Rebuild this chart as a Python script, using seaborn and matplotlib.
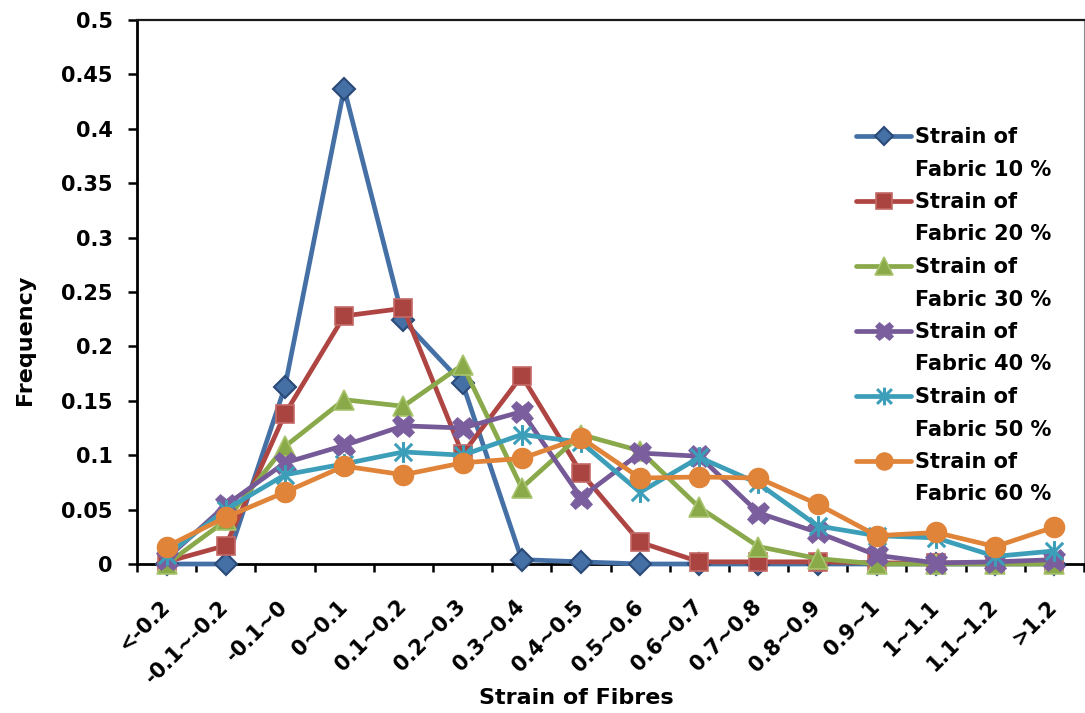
import numpy as np
import pandas as pd
import matplotlib
matplotlib.use("Agg")
import matplotlib.pyplot as plt
from matplotlib.lines import Line2D
from matplotlib.path import Path
import seaborn as sns

# Strain bins of the fibres (x categories)
bins = ["<-0.2", "-0.1~-0.2", "-0.1~0", "0~0.1", "0.1~0.2", "0.2~0.3",
        "0.3~0.4", "0.4~0.5", "0.5~0.6", "0.6~0.7", "0.7~0.8", "0.8~0.9",
        "0.9~1", "1~1.1", "1.1~1.2", ">1.2"]

# Frequency of fibre strain for each fabric strain level
fabric_10 = [0.000, 0.000, 0.163, 0.437, 0.224, 0.166, 0.004, 0.002,
             0.000, 0.000, 0.000, 0.000, 0.000, 0.000, 0.000, 0.000]
fabric_20 = [0.002, 0.017, 0.138, 0.228, 0.235, 0.101, 0.173, 0.084,
             0.020, 0.002, 0.002, 0.002, 0.001, 0.001, 0.001, 0.001]
fabric_30 = [0.000, 0.040, 0.108, 0.151, 0.145, 0.183, 0.070, 0.119,
             0.104, 0.052, 0.016, 0.005, 0.000, 0.000, 0.000, 0.000]
fabric_40 = [0.005, 0.054, 0.093, 0.109, 0.127, 0.125, 0.140, 0.061,
             0.102, 0.099, 0.047, 0.029, 0.008, 0.001, 0.002, 0.004]
fabric_50 = [0.008, 0.050, 0.082, 0.092, 0.103, 0.100, 0.119, 0.112,
             0.066, 0.098, 0.074, 0.035, 0.026, 0.024, 0.007, 0.012]
fabric_60 = [0.016, 0.043, 0.066, 0.090, 0.082, 0.093, 0.097, 0.116,
             0.079, 0.080, 0.079, 0.055, 0.026, 0.029, 0.016, 0.034]

series_names = ["Strain of Fabric 10 %", "Strain of Fabric 20 %",
                "Strain of Fabric 30 %", "Strain of Fabric 40 %",
                "Strain of Fabric 50 %", "Strain of Fabric 60 %"]
series_values = [fabric_10, fabric_20, fabric_30, fabric_40, fabric_50, fabric_60]

y_ticks = [0, 0.05, 0.1, 0.15, 0.2, 0.25, 0.3, 0.35, 0.4, 0.45, 0.5]
y_tick_labels = ["0", "0.05", "0.1", "0.15", "0.2", "0.25", "0.3", "0.35",
                 "0.4", "0.45", "0.5"]

# Asterisk marker: an "x" with a vertical bar through it
_asterisk = Path(
    [(-0.5, -0.5), (0.5, 0.5), (-0.5, 0.5), (0.5, -0.5), (0, -0.6), (0, 0.6)],
    [Path.MOVETO, Path.LINETO, Path.MOVETO, Path.LINETO, Path.MOVETO, Path.LINETO],
)

styles = [
    dict(color="#4470A6", marker="D", ms=11, mfc="#4470A6", mec="#2A4A78", mew=1.5),
    dict(color="#AE4542", marker="s", ms=13.5, mfc="#AA4441", mec="#C46A67", mew=1.2),
    dict(color="#89A94B", marker="^", ms=15, mfc="#8AAA4A", mec="#A9C46E", mew=1.2),
    dict(color="#765A97", marker="X", ms=16, mfc="#7A5E9E", mec="#7A5E9E", mew=0.5),
    dict(color="#3C9EB8", marker=_asterisk, ms=15, mfc="none", mec="#3C9EB8", mew=2.2),
    dict(color="#E0843A", marker="o", ms=14.5, mfc="#E0843A", mec="#E0843A", mew=1),
]

records = []
for name, vals in zip(series_names, series_values):
    for i, (b, v) in enumerate(zip(bins, vals)):
        records.append({"series": name, "pos": i, "bin": b, "freq": v})
df = pd.DataFrame(records)

sns.set_theme(style="white")
plt.rcParams["font.family"] = ["DejaVu Sans"]
plt.rcParams["font.weight"] = "bold"
plt.rcParams["text.color"] = "black"
plt.rcParams["axes.labelcolor"] = "black"
plt.rcParams["xtick.color"] = "black"
plt.rcParams["ytick.color"] = "black"

fig = plt.figure(figsize=(10.85, 7.13), dpi=100)
ax = fig.add_axes([137 / 1085, 1 - 564 / 713, (1084 - 137) / 1085, (564 - 20) / 713])

for name, st in zip(series_names, styles):
    sub = df[df["series"] == name]
    sns.lineplot(data=sub, x="pos", y="freq", ax=ax, color=st["color"],
                 linewidth=3.4, marker=st["marker"], markersize=st["ms"],
                 markerfacecolor=st["mfc"], markeredgecolor=st["mec"],
                 markeredgewidth=st["mew"], legend=False, zorder=3, clip_on=False)

n = len(bins)
ax.set_xlim(-0.5, n - 0.5)
ax.set_ylim(0, 0.5)

# Category labels at bin centres, tick marks at bin boundaries
ax.set_xticks(np.arange(n))
ax.set_xticklabels(bins, rotation=45, ha="right", va="center",
                   rotation_mode="anchor", fontsize=15, fontweight="bold",
                   color="black")
ax.set_xticks(np.arange(n + 1) - 0.5, minor=True)
ax.tick_params(axis="x", which="major", length=0, pad=28.5)
ax.tick_params(axis="x", which="minor", length=6, width=1.8, color="black",
               direction="out", bottom=True)

ax.set_yticks(y_ticks)
ax.set_yticklabels(y_tick_labels, fontsize=15, fontweight="bold", color="black")
ax.tick_params(axis="y", which="major", length=6.5, width=1.8, color="black",
               direction="out", left=True, pad=11)

ax.set_xlabel("Strain of Fibres", fontsize=16, fontweight="bold", color="black",
              va="center")
ax.xaxis.set_label_coords(576 / 1085, 1 - 698 / 713, transform=fig.transFigure)
ax.set_ylabel("Frequency", fontsize=16, fontweight="bold", color="black",
              va="center")
ax.yaxis.set_label_coords(25 / 1085, 1 - 340 / 713, transform=fig.transFigure)

for side in ("left", "bottom"):
    ax.spines[side].set_color("black")
    ax.spines[side].set_linewidth(2.0)
ax.spines["top"].set_color("#1a1a1a")
ax.spines["top"].set_linewidth(1.6)
ax.spines["right"].set_color("#8a8a8a")
ax.spines["right"].set_linewidth(0.8)
ax.grid(False)

# Legend: two text rows per series, marker shown on the first row
handles, labels = [], []
blank = Line2D([], [], linestyle="none", marker=None)
for name, st in zip(series_names, styles):
    handles.append(Line2D([], [], color=st["color"], linewidth=3.4,
                          marker=st["marker"], markersize=st["ms"] * 0.85,
                          markerfacecolor=st["mfc"], markeredgecolor=st["mec"],
                          markeredgewidth=st["mew"]))
    labels.append("Strain of")
    handles.append(blank)
    labels.append(name.replace("Strain of ", ""))

leg = ax.legend(handles, labels, loc="upper left",
                bbox_to_anchor=(856 / 1085, 1 - 127 / 713),
                bbox_transform=fig.transFigure, frameon=False,
                prop={"size": 15, "weight": "bold"}, handlelength=2.65,
                handletextpad=0.2, labelspacing=0.6, borderpad=0,
                borderaxespad=0)
for t in leg.get_texts():
    t.set_color("black")

fig.savefig("out.png", dpi=100)
